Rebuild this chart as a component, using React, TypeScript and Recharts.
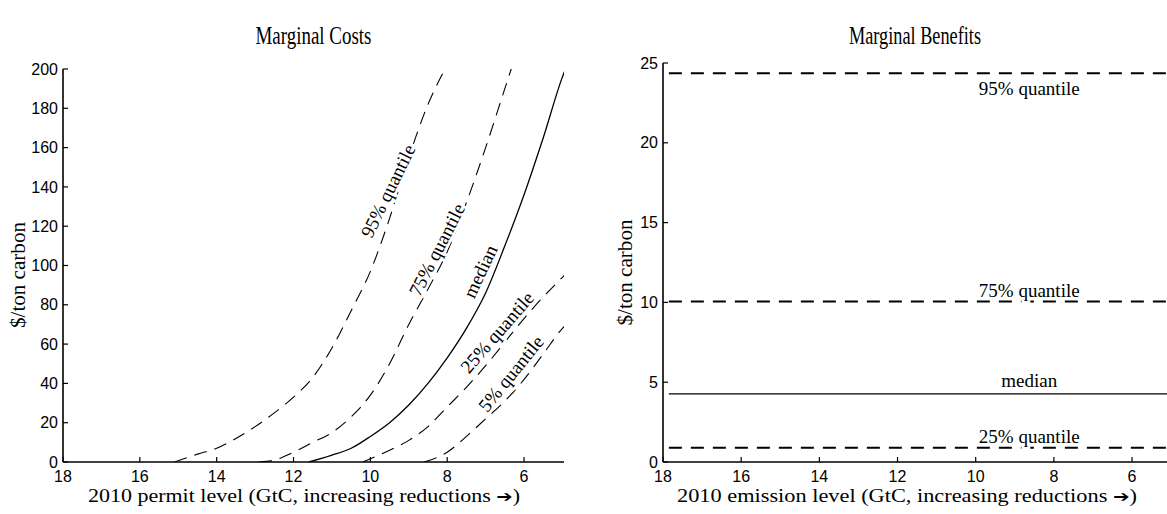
import React from 'react';
import { LineChart, Line, XAxis, YAxis, ReferenceDot } from 'recharts';

// permit / emission levels in GtC (axis runs from 18 down to ~5)
const permitTicks = [18, 16, 14, 12, 10, 8, 6];
const costTicks = [0, 20, 40, 60, 80, 100, 120, 140, 160, 180, 200];
const benefitTicks = [0, 5, 10, 15, 20, 25];

// marginal cost curves, $/ton carbon
const q95X = [15.1, 14.5, 14.0, 13.5, 13.0, 12.5, 12.0, 11.5, 11.0, 10.5, 10.0, 9.5, 9.0, 8.5, 8.0];
const q95Y = [0, 4, 7, 12, 18, 25, 33, 43, 58, 77, 97, 124, 155, 182, 202];

const q75X = [12.9, 12.5, 12.0, 11.5, 11.0, 10.5, 10.0, 9.5, 9.0, 8.5, 8.0, 7.5, 7.0, 6.5, 6.3];
const q75Y = [0, 1, 5, 10, 15, 23, 34, 50, 70, 88, 107, 132, 160, 190, 202];

const medX = [11.6, 11.0, 10.5, 10.0, 9.5, 9.0, 8.5, 8.0, 7.5, 7.0, 6.5, 6.0, 5.5, 5.0, 4.9];
const medY = [0, 3.5, 7, 13, 20, 29, 40, 53, 68, 86, 110, 136, 165, 196, 201];

const q25X = [10.2, 9.5, 9.0, 8.5, 8.0, 7.5, 7.0, 6.5, 6.0, 5.5, 5.0, 4.9];
const q25Y = [0, 6, 11, 18, 28, 38, 49, 61, 73, 84, 94, 96];

const q05X = [8.6, 8.0, 7.5, 7.0, 6.5, 6.0, 5.5, 5.0, 4.9];
const q05Y = [0, 5, 13, 22, 31, 42, 55, 68, 70];

// marginal benefits are flat across emission levels
const emissionX = [17.85, 4.9];
const mb95 = [24.35, 24.35];
const mb75 = [10.05, 10.05];
const mbMed = [4.27, 4.27];
const mb25 = [0.9, 0.9];

const toPoints = (xs: number[], ys: number[]) => xs.map((x, i) => ({ x, y: ys[i] }));

const SERIF = '"Liberation Serif", "Times New Roman", Times, serif';
const SANS = '"Liberation Sans", Arial, sans-serif';

const tickStyle = { fill: '#000', fontSize: 16, fontFamily: SANS };
const axisLine = { stroke: '#000', strokeWidth: 1.6 };
const tickLine = { stroke: '#000', strokeWidth: 1.2 };

const curveLabel = (text: string, angle: number, dy = 0) => (props: any) => {
  const vb = props.viewBox || {};
  const x = (vb.x ?? 0) + (vb.width ?? 0) / 2;
  const y = (vb.y ?? 0) + (vb.height ?? 0) / 2 + dy;
  return (
    <text
      x={x}
      y={y}
      transform={`rotate(${angle} ${x} ${y})`}
      textAnchor="middle"
      dominantBaseline="central"
      fontFamily={SERIF}
      fontSize={19}
      fill="#000"
      stroke="#fff"
      strokeWidth={5}
      paintOrder="stroke"
    >
      {text}
    </text>
  );
};

const xLabel = (text: string, shift: number, len: number) => (props: any) => {
  const vb = props.viewBox || {};
  const x = vb.x + vb.width / 2 + shift;
  return (
    <text x={x} y={vb.y + 40} textAnchor="middle" fontFamily={SERIF} fontSize={18} fill="#000"
      textLength={len} lengthAdjust="spacingAndGlyphs">
      {text}
      <tspan fontFamily="DejaVu Sans" fontSize={16}>{'\u2794'}</tspan>)
    </text>
  );
};

const yLabel = (dx: number, dy: number) => (props: any) => {
  const vb = props.viewBox || {};
  const x = vb.x + dx;
  const y = vb.y + vb.height / 2 + dy;
  return (
    <text x={x} y={y} transform={`rotate(-90 ${x} ${y})`} textAnchor="middle" dominantBaseline="central"
      fontFamily={SERIF} fontSize={20} fill="#000" textLength={106} lengthAdjust="spacingAndGlyphs">
      $/ton carbon
    </text>
  );
};

const costLabels = [
  { text: '95% quantile', x: 9.54, y: 138, angle: -64 },
  { text: '75% quantile', x: 8.27, y: 108, angle: -63 },
  { text: 'median', x: 7.14, y: 97, angle: -65 },
  { text: '25% quantile', x: 6.7, y: 66, angle: -49 },
  { text: '5% quantile', x: 6.34, y: 45, angle: -51 },
];

const Title = ({ text, center, len }: { text: string; center: number; len: number }) => (
  <svg width={center * 2} height={60} style={{ position: 'absolute', left: 0, top: 0 }}>
    <text x={center} y={44} textAnchor="middle" fontFamily={SERIF} fontSize={26} fill="#000"
      textLength={len} lengthAdjust="spacingAndGlyphs">
      {text}
    </text>
  </svg>
);

const CostChart = () => (
  <div style={{ position: 'absolute', left: 0, top: 0, width: 583, height: 514 }}>
    <LineChart width={583} height={514} margin={{ top: 69, right: 19, bottom: 22, left: 3 }}>
      <XAxis type="number" dataKey="x" domain={[4.96, 18]} reversed allowDataOverflow ticks={permitTicks}
        tick={tickStyle} tickSize={-5} tickMargin={14} height={30} axisLine={axisLine} tickLine={tickLine}
        label={xLabel('2010 permit level (GtC, increasing reductions ', -9.5, 432)} />
      <XAxis xAxisId="top" orientation="top" type="number" dataKey="x" domain={[4.96, 18]} reversed allowDataOverflow
        ticks={permitTicks} tick={false} tickSize={-5} height={0} axisLine={axisLine} tickLine={tickLine} />
      <YAxis type="number" domain={[0, 200]} allowDataOverflow ticks={costTicks} tick={tickStyle} tickSize={-5}
        tickMargin={10} width={60} axisLine={axisLine} tickLine={tickLine} label={yLabel(14.5, 9.5)} />
      <YAxis yAxisId="right" orientation="right" type="number" domain={[0, 200]} ticks={costTicks} tick={false}
        tickSize={-5} width={0} axisLine={axisLine} tickLine={tickLine} />
      <Line data={toPoints(q95X, q95Y)} dataKey="y" type="monotoneX" stroke="#000" strokeWidth={1.1} strokeDasharray="13 8" dot={false} isAnimationActive={false} />
      <Line data={toPoints(q75X, q75Y)} dataKey="y" type="monotoneX" stroke="#000" strokeWidth={1.1} strokeDasharray="13 8" dot={false} isAnimationActive={false} />
      <Line data={toPoints(medX, medY)} dataKey="y" type="monotoneX" stroke="#000" strokeWidth={1.3} dot={false} isAnimationActive={false} />
      <Line data={toPoints(q25X, q25Y)} dataKey="y" type="monotoneX" stroke="#000" strokeWidth={1.1} strokeDasharray="13 8" dot={false} isAnimationActive={false} />
      <Line data={toPoints(q05X, q05Y)} dataKey="y" type="monotoneX" stroke="#000" strokeWidth={1.1} strokeDasharray="13 8" dot={false} isAnimationActive={false} />
      {costLabels.map((l) => (
        <ReferenceDot key={l.text} x={l.x} y={l.y} r={0} fill="none" stroke="none" label={curveLabel(l.text, l.angle)} />
      ))}
    </LineChart>
    <Title text="Marginal Costs" center={313.5} len={116} />
  </div>
);

const BenefitChart = () => (
  <div style={{ position: 'absolute', left: 583, top: 0, width: 600, height: 514 }}>
    <LineChart width={600} height={514} margin={{ top: 63, right: 15, bottom: 22, left: 20 }}>
      <XAxis type="number" dataKey="x" domain={[5.08, 18]} reversed allowDataOverflow ticks={permitTicks}
        tick={tickStyle} tickSize={-5} tickMargin={14} height={30} axisLine={axisLine} tickLine={tickLine}
        label={xLabel('2010 emission level (GtC, increasing reductions ', -8.5, 460)} />
      <XAxis xAxisId="top" orientation="top" type="number" dataKey="x" domain={[5.08, 18]} reversed allowDataOverflow
        ticks={permitTicks} tick={false} tickSize={-5} height={0} axisLine={axisLine} tickLine={tickLine} />
      <YAxis type="number" domain={[0, 25]} ticks={benefitTicks} tick={tickStyle} tickSize={-5}
        tickMargin={10} width={60} axisLine={axisLine} tickLine={tickLine} label={yLabel(21.5, 10)} />
      <YAxis yAxisId="right" orientation="right" type="number" domain={[0, 25]} ticks={benefitTicks} tick={false}
        tickSize={-5} width={0} axisLine={axisLine} tickLine={tickLine} />
      <Line data={toPoints(emissionX, mb95)} dataKey="y" stroke="#000" strokeWidth={2} strokeDasharray="13 9" dot={false} isAnimationActive={false} />
      <Line data={toPoints(emissionX, mb75)} dataKey="y" stroke="#000" strokeWidth={2} strokeDasharray="13 9" dot={false} isAnimationActive={false} />
      <Line data={toPoints(emissionX, mbMed)} dataKey="y" stroke="#000" strokeWidth={1.4} dot={false} isAnimationActive={false} />
      <Line data={toPoints(emissionX, mb25)} dataKey="y" stroke="#000" strokeWidth={2} strokeDasharray="13 9" dot={false} isAnimationActive={false} />
      <ReferenceDot x={8.63} y={mb95[0]} r={0} fill="none" stroke="none" label={curveLabel('95% quantile', 0, 15)} />
      <ReferenceDot x={8.63} y={mb75[0]} r={0} fill="none" stroke="none" label={curveLabel('75% quantile', 0, -11)} />
      <ReferenceDot x={8.63} y={mbMed[0]} r={0} fill="none" stroke="none" label={curveLabel('median', 0, -13)} />
      <ReferenceDot x={8.63} y={mb25[0]} r={0} fill="none" stroke="none" label={curveLabel('25% quantile', 0, -11)} />
    </LineChart>
    <Title text="Marginal Benefits" center={332} len={132} />
  </div>
);

export default function App() {
  return (
    <div style={{ position: 'absolute', left: 0, top: 0, width: 1167, height: 514, overflow: 'hidden', background: '#fff' }}>
      <CostChart />
      <BenefitChart />
    </div>
  );
}
